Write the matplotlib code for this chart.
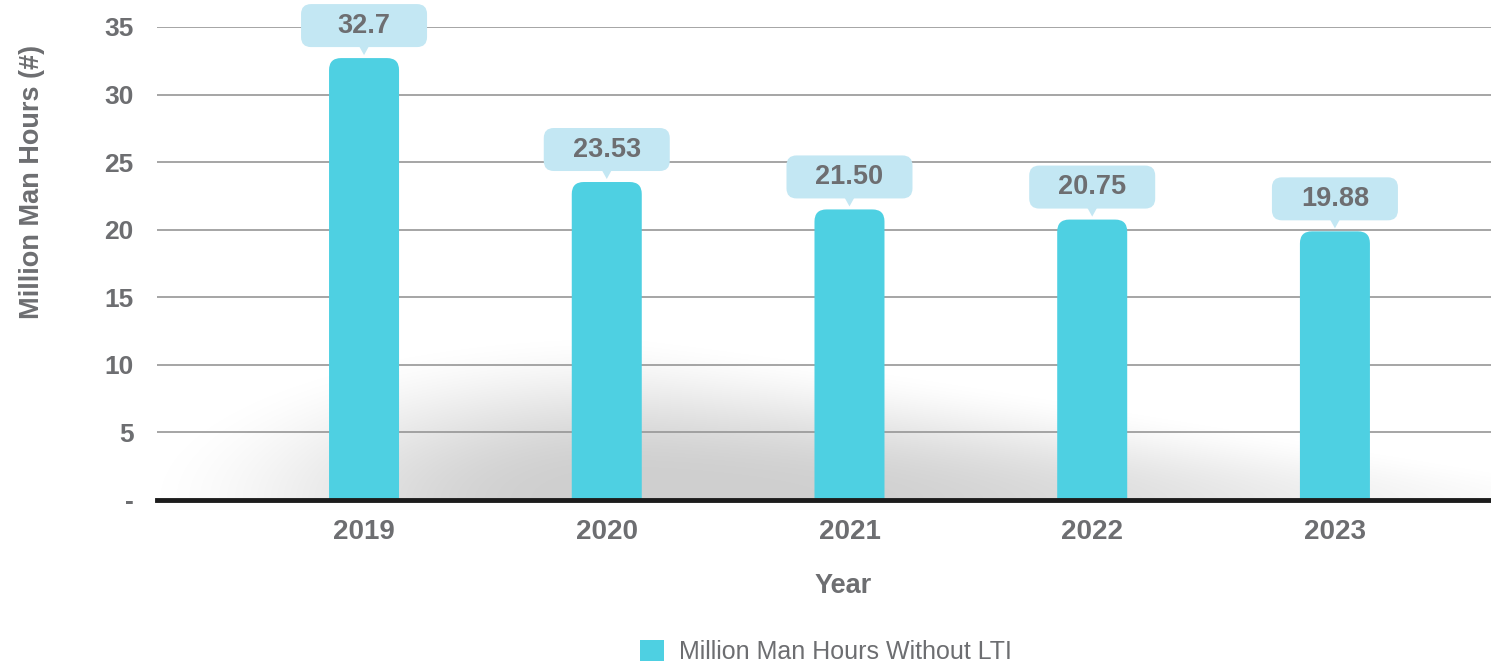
import matplotlib
matplotlib.use("Agg")
import matplotlib.pyplot as plt
import numpy as np
from matplotlib.patches import FancyBboxPatch, Polygon, Patch
from matplotlib.transforms import ScaledTranslation

plt.rcParams["font.family"] = ["Liberation Sans", "DejaVu Sans"]

years = ["2019", "2020", "2021", "2022", "2023"]
hours = [32.7, 23.53, 21.50, 20.75, 19.88]
value_labels = ["32.7", "23.53", "21.50", "20.75", "19.88"]
y_ticks = [0, 5, 10, 15, 20, 25, 30, 35]
y_tick_labels = ["-", "5", "10", "15", "20", "25", "30", "35"]

BAR = "#4ed0e2"
BUBBLE = "#c3e7f3"
TEXT = "#6d6e71"

fig = plt.figure(figsize=(14.91, 6.62), dpi=100)
ax = fig.add_axes([157 / 1491, 1 - 500 / 662, 1334 / 1491, 473 / 662])

x = np.arange(len(years))
ax.set_xlim(-0.853, 4.643)
ax.set_ylim(0, 35)

# soft floor shadow behind the bars (pixel grid over the axes)
W, H = 1334, 473
gx, gy = np.meshgrid(np.arange(W), np.arange(H)[::-1])
cx = 470
rx = np.where(gx < cx, 480, 1000)
ry = 165 - 110 * np.clip((gx - cx) / 900, 0, 1)
d = np.sqrt(((gx - cx) / rx) ** 2 + (gy / ry) ** 2)
t = np.clip((d - 0.15) / 0.9, 0, 1)
shade = 0.19 * (1 - t * t * (3 - 2 * t))
img = np.zeros((H, W, 4))
img[..., 3] = shade
ax.imshow(img, extent=(0, 1, 0, 1), transform=ax.transAxes, aspect="auto",
          zorder=0, interpolation="bilinear")

ax.set_yticks(y_ticks)
ax.set_yticklabels(y_tick_labels)
ax.set_xticks(x)
ax.set_xticklabels(years)
ax.grid(axis="y", color="#969696", linewidth=1.2, zorder=1)
ax.set_axisbelow(True)
ax.tick_params(axis="both", length=0, labelcolor=TEXT, labelsize=19)
ax.tick_params(axis="y", pad=17)
ax.tick_params(axis="x", pad=14, labelsize=20)
for lbl in ax.get_xticklabels() + ax.get_yticklabels():
    lbl.set_fontweight("bold")

for s in ["top", "right", "left"]:
    ax.spines[s].set_visible(False)
ax.spines["bottom"].set_color("#1c1c1c")
ax.spines["bottom"].set_linewidth(3.5)
ax.spines["bottom"].set_zorder(4)

# bars with rounded tops: scale the corner so it looks round in pixels
p0 = ax.transData.transform((0, 0))
p1 = ax.transData.transform((1, 1))
sx, sy = p1[0] - p0[0], p1[1] - p0[1]
radius = 12 / sx
width = 70 / sx
for xi, v in zip(x, hours):
    bar = FancyBboxPatch((xi - width / 2, -2), width, v + 2,
                         boxstyle=f"round,pad=0,rounding_size={radius}",
                         mutation_aspect=sx / sy, fc=BAR, ec="none", zorder=2)
    ax.add_patch(bar)

# value callouts, sized in inches above each bar top
gap, ptr, bw, bh = 0.03, 0.08, 1.26, 0.43
for xi, v, lab in zip(x, hours, value_labels):
    tr = fig.dpi_scale_trans + ScaledTranslation(xi, v, ax.transData)
    box = FancyBboxPatch((-bw / 2, gap + ptr), bw, bh,
                         boxstyle="round,pad=0,rounding_size=0.1",
                         fc=BUBBLE, ec="none", transform=tr, clip_on=False, zorder=5)
    fig.add_artist(box)
    tip = Polygon([(-0.05, gap + ptr + 0.01), (0.05, gap + ptr + 0.01), (0, gap)],
                  closed=True, fc=BUBBLE, ec="none", transform=tr, clip_on=False, zorder=5)
    fig.add_artist(tip)
    fig.text(0, gap + ptr + bh / 2, lab, transform=tr, ha="center", va="center",
             fontsize=19.5, fontweight="bold", color=TEXT, zorder=6)

ax.set_ylabel("Million Man Hours (#)", fontsize=19.5, fontweight="bold", color=TEXT)
ax.yaxis.set_label_coords(-0.084, 0.672)
ax.set_xlabel("Year", fontsize=19.5, fontweight="bold", color=TEXT)
ax.xaxis.set_label_coords(0.514, -0.154)

handle = Patch(facecolor=BAR, edgecolor="none", label="Million Man Hours Without LTI")
fig.legend(handles=[handle], loc="center", bbox_to_anchor=(826 / 1491, 1 - 652 / 662),
           frameon=False, fontsize=18, labelcolor=TEXT, handlelength=0.95,
           handleheight=0.95, handletextpad=0.6)

fig.savefig("out.png", dpi=100)
